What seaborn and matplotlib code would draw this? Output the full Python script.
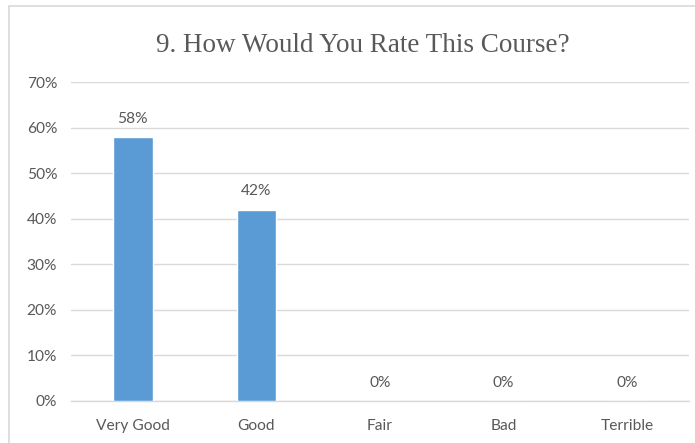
import matplotlib
matplotlib.use("Agg")
import matplotlib.pyplot as plt
from matplotlib.patches import Rectangle
import seaborn as sns
import pandas as pd

categories = ["Very Good", "Good", "Fair", "Bad", "Terrible"]
shares = [0.58, 0.42, 0.0, 0.0, 0.0]
y_ticks = [0.0, 0.1, 0.2, 0.3, 0.4, 0.5, 0.6, 0.7]
title_text = "9. How Would You Rate This Course?"

sns.set_theme(style="white")
plt.rcParams["font.family"] = ["Lato", "DejaVu Sans"]

text_color = "#595959"
bar_color = "#5B9BD5"
grid_color = "#D9D9D9"

df = pd.DataFrame({"rating": categories, "share": shares})

fig = plt.figure(figsize=(6.95, 4.43), dpi=100)
# chart frame: left and top edges visible, the rest runs off the canvas
fig.patches.append(Rectangle((9 / 695, -0.05), 1.2, 1 - 6 / 443 + 0.05,
                             transform=fig.transFigure, fill=False,
                             edgecolor="#D9D9D9", linewidth=1.2))
ax = fig.add_axes([71 / 695, 1 - 401 / 443, (689 - 71) / 695, (401 - 82) / 443])

sns.barplot(data=df, x="rating", y="share", color=bar_color, width=0.32,
            saturation=1, ax=ax, zorder=3)

ax.set_ylim(0, 0.7)
ax.set_yticks(y_ticks)
ax.set_yticklabels([f"{int(round(t * 100))}%" for t in y_ticks])
ax.grid(axis="y", color=grid_color, linewidth=1, zorder=0)
ax.grid(axis="x", visible=False)
for side in ["top", "right", "left"]:
    ax.spines[side].set_visible(False)
ax.spines["bottom"].set_color(grid_color)
ax.spines["bottom"].set_linewidth(1)
ax.tick_params(axis="both", length=0, labelsize=11.2, colors=text_color)
ax.tick_params(axis="x", pad=13)
ax.tick_params(axis="y", pad=10)
ax.set_xlabel("")
ax.set_ylabel("")

for i, v in enumerate(shares):
    ax.annotate(f"{int(round(v * 100))}%", (i, v), xytext=(0, 8),
                textcoords="offset points", ha="center", va="bottom",
                fontsize=11.2, color=text_color)

fig.text(0.522, 1 - 45 / 443, title_text, ha="center", va="center",
         fontsize=19.5, color=text_color, family=["Liberation Serif"])

fig.savefig("out.png", dpi=100)
